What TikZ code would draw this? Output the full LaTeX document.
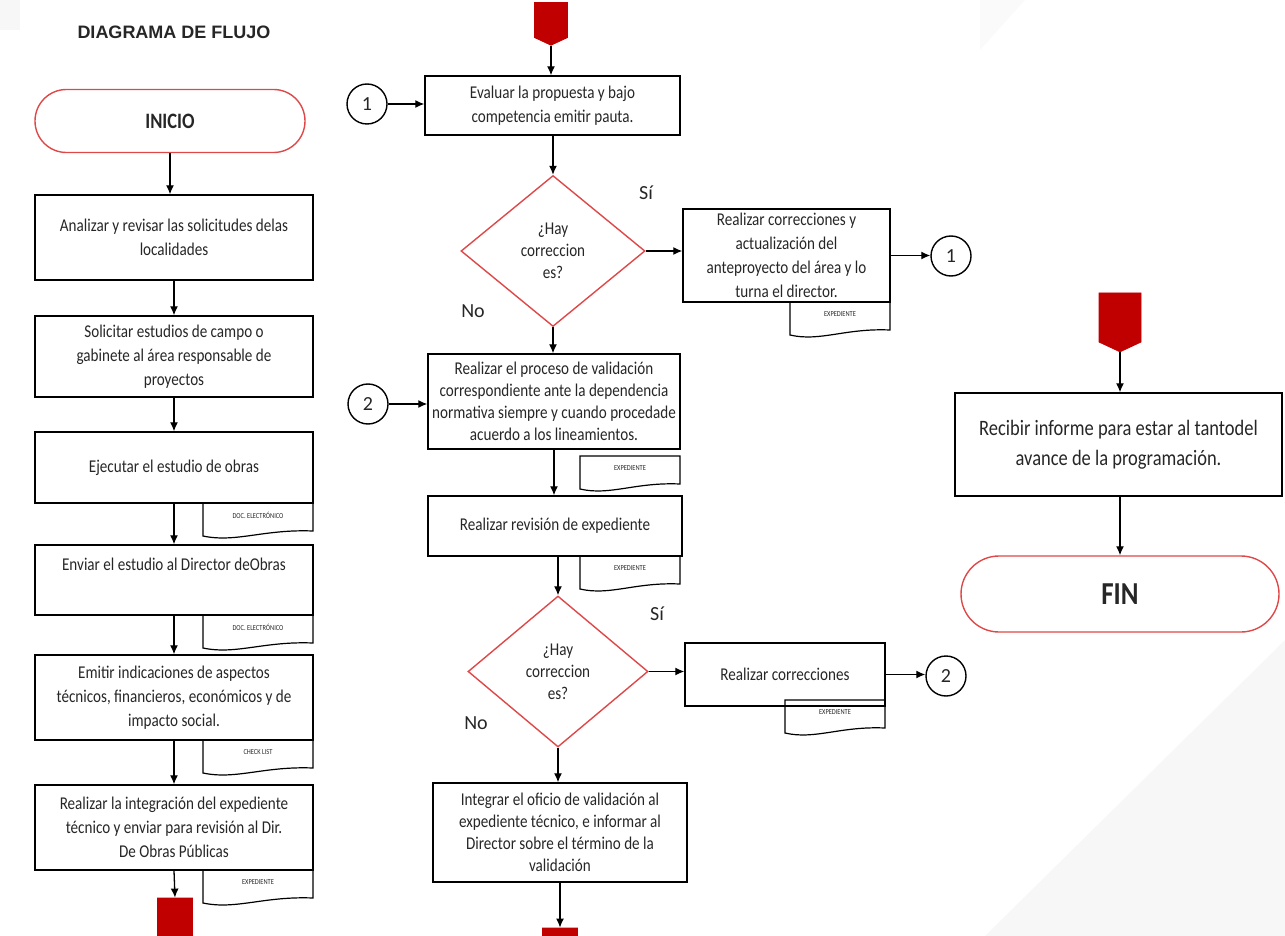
\documentclass[tikz,border=0pt]{standalone}
\usepackage{fontspec}
\setmainfont{Carlito}
\newfontfamily\narrowfont{Carlito}[FakeStretch=0.84]
\newfontfamily\headfont{Liberation Sans}
\usetikzlibrary{shapes.geometric,shapes.symbols,arrows.meta}
\definecolor{darkred}{RGB}{192,0,0}
\definecolor{linered}{RGB}{222,72,72}

% document symbol: x, y (top left), width, label, name
\newcommand{\docnote}[5]{%
  \draw[line width=0.6pt] (#1,#2) -- ({#1+#3},#2) -- ({#1+#3},{#2+28})
    .. controls ({#1+0.55*#3},{#2+26}) and ({#1+0.3*#3},{#2+40}) .. (#1,{#2+33}) -- cycle;
  \node at ({#1+0.5*#3},{#2+12})[font=\narrowfont\fontsize{3.8}{4}\selectfont] (#5) {#4};}

\begin{document}
\begin{tikzpicture}[x=0.5pt, y=-0.5pt, >={Latex[length=4.5pt,width=4pt]},
    every node/.style={font=\narrowfont\fontsize{9}{12}\selectfont, text=black!85},
    box/.style={draw, line width=0.7pt, align=center, inner sep=2pt},
    term/.style={draw=linered, line width=0.7pt},
    decision/.style={diamond, draw=linered, line width=0.7pt, align=center, inner sep=0pt,
      font=\narrowfont\fontsize{9}{11}\selectfont},
    conn/.style={draw, circle, line width=0.7pt, minimum size=20pt, inner sep=0pt,
      font=\fontsize{10}{10}\selectfont},
    offpage/.style={shape=signal, signal to=south, signal pointer angle=130,
      fill=darkred, draw=darkred, inner sep=0pt},
    answer/.style={font=\fontsize{10}{12}\selectfont},
    flow/.style={->, line width=0.65pt}]
      \useasboundingbox (0,0) rectangle (1285,936);
      % faint background
      \fill[black!3] (985,936) -- (1285,640) -- (1285,936) -- cycle;
      \fill[black!3] (0,0) -- (20,0) -- (20,30) -- (0,30) -- cycle;
      \fill[black!2] (980,0) -- (1025,0) -- (980,50) -- cycle;
      % left column
      \node at (174,32)[font=\headfont\bfseries\fontsize{9}{11}\selectfont] (title){DIAGRAMA DE FLUJO};
      \node at (170,121)[term, minimum width=135pt, minimum height=31.5pt, rounded corners=15.7pt,
        font=\narrowfont\bfseries\fontsize{11}{13}\selectfont] (inicio){INICIO};
      \node at (174,237.5)[box, minimum width=139pt, minimum height=42.5pt] (b1){Analizar y revisar las solicitudes delas\\localidades};
      \node at (174,356.5)[box, minimum width=139pt, minimum height=40.5pt] (b2){Solicitar estudios de campo o\\gabinete al área responsable de\\proyectos};
      \node at (174,467.5)[box, minimum width=139pt, minimum height=35.5pt] (b3){Ejecutar el estudio de obras};
      \node at (174,580)[box, minimum width=139pt, minimum height=35pt] (b4){Enviar el estudio al Director deObras\\[4pt]~};
      \node at (174,697.5)[box, minimum width=139pt, minimum height=42.5pt] (b5){Emitir indicaciones de aspectos\\técnicos, financieros, económicos y de\\impacto social.};
      \node at (174,827.5)[box, minimum width=139pt, minimum height=42.5pt] (b6){Realizar la integración del expediente\\técnico y enviar para revisión al Dir.\\De Obras Públicas};
      \node at (175,918)[offpage, minimum width=17.5pt, minimum height=20pt] (c1){};
      \docnote{203}{503}{110}{DOC. ELECTRÓNICO}{d3}
      \docnote{203}{615}{110}{DOC. ELECTRÓNICO}{d4}
      \docnote{203}{740}{110}{CHECK LIST}{d5}
      \docnote{203}{870}{110}{EXPEDIENTE}{d6}
      \draw[flow] (inicio.south) -- (inicio.south |- b1.north);
      \draw[flow] (b1) -- (b2);
      \draw[flow] (b2) -- (b3);
      \draw[flow] (b3) -- (b4);
      \draw[flow] (b4) -- (b5);
      \draw[flow] (b5) -- (b6);
      \draw[flow] (b6.south) -- (c1.north);
      % middle column
      \node at (551,20)[offpage, minimum width=16.5pt, minimum height=17.5pt] (c2){};
      \node at (552.5,105.5)[box, minimum width=127.5pt, minimum height=29.5pt] (e1){Evaluar la propuesta y bajo\\competencia emitir pauta.};
      \node at (367,104)[conn] (k1){1};
      \node at (553,251)[decision, minimum width=92pt, minimum height=75.5pt] (q1){¿Hay\\correccion\\es?};
      \node at (786.5,255.5)[box, minimum width=103.5pt, minimum height=46.5pt] (r1){Realizar correcciones y\\actualización del\\anteproyecto del área y lo\\turna el director.};
      \node at (951,256)[conn] (k1b){1};
      \node at (646,193)[answer] (si1){Sí};
      \node at (473,311)[answer] (no1){No};
      \docnote{790}{302}{100}{EXPEDIENTE}{dr1}
      \node at (554,401.5)[box, minimum width=126pt, minimum height=47.5pt,
        font=\narrowfont\fontsize{9}{11}\selectfont] (v1){Realizar el proceso de validación\\correspondiente ante la dependencia\\normativa siempre y cuando procedade\\acuerdo a los lineamientos.};
      \node at (368,404)[conn] (k2){2};
      \docnote{580}{456}{100}{EXPEDIENTE}{dv1}
      \node at (555,526)[box, minimum width=127pt, minimum height=30pt] (rr){Realizar revisión de expediente};
      \docnote{580}{556}{100}{EXPEDIENTE}{drr}
      \node at (558,671.5)[decision, minimum width=90pt, minimum height=75.5pt] (q2){¿Hay\\correccion\\es?};
      \node at (657,614)[answer] (si2){Sí};
      \node at (476,723)[answer] (no2){No};
      \node at (785,674.5)[box, minimum width=100pt, minimum height=31.5pt] (rc){Realizar correcciones};
      \docnote{785}{700}{100}{EXPEDIENTE}{drc}
      \node at (946,676)[conn] (k2b){2};
      \node at (560,832.5)[box, minimum width=127pt, minimum height=49.5pt,
        font=\narrowfont\fontsize{9}{11}\selectfont] (i1){Integrar el oficio de validación al\\expediente técnico, e informar al\\Director sobre el término de la\\validación};
      \node at (560,948)[offpage, minimum width=17.5pt, minimum height=20pt] (c3){};
      \draw[flow] (c2.south) -- (c2.south |- e1.north);
      \draw[flow] (k1) -- (k1 -| e1.west);
      \draw[flow] (e1.south -| q1.north) -- (q1.north);
      \draw[flow] (q1.east) -- (q1.east -| r1.west);
      \draw[flow] (r1.east) -- (r1.east -| k1b.west);
      \draw[flow] (q1.south) -- (q1.south |- v1.north);
      \draw[flow] (k2) -- (k2 -| v1.west);
      \draw[flow] (v1.south) -- (v1.south |- rr.north);
      \draw[flow] (rr.south -| q2.north) -- (q2.north);
      \draw[flow] (q2.east) -- (q2.east -| rc.west);
      \draw[flow] (rc.east) -- (rc.east -| k2b.west);
      \draw[flow] (q2.south) -- (q2.south |- i1.north);
      \draw[flow] (i1.south) -- (c3.north);
      % right column
      \node at (1120,317.5)[offpage, minimum width=21pt, minimum height=24.5pt] (c4){};
      \node at (1118.5,444.5)[box, minimum width=163.5pt, minimum height=51.5pt,
        font=\narrowfont\fontsize{11}{15}\selectfont] (ri){Recibir informe para estar al tantodel\\avance de la programación.};
      \node at (1120,594)[term, minimum width=159pt, minimum height=38pt, rounded corners=19pt,
        font=\narrowfont\bfseries\fontsize{16}{18}\selectfont] (fin){FIN};
      \draw[flow] (c4.south) -- (c4.south |- ri.north);
      \draw[flow] (ri.south -| fin.north) -- (fin.north);
\end{tikzpicture}
\end{document}
